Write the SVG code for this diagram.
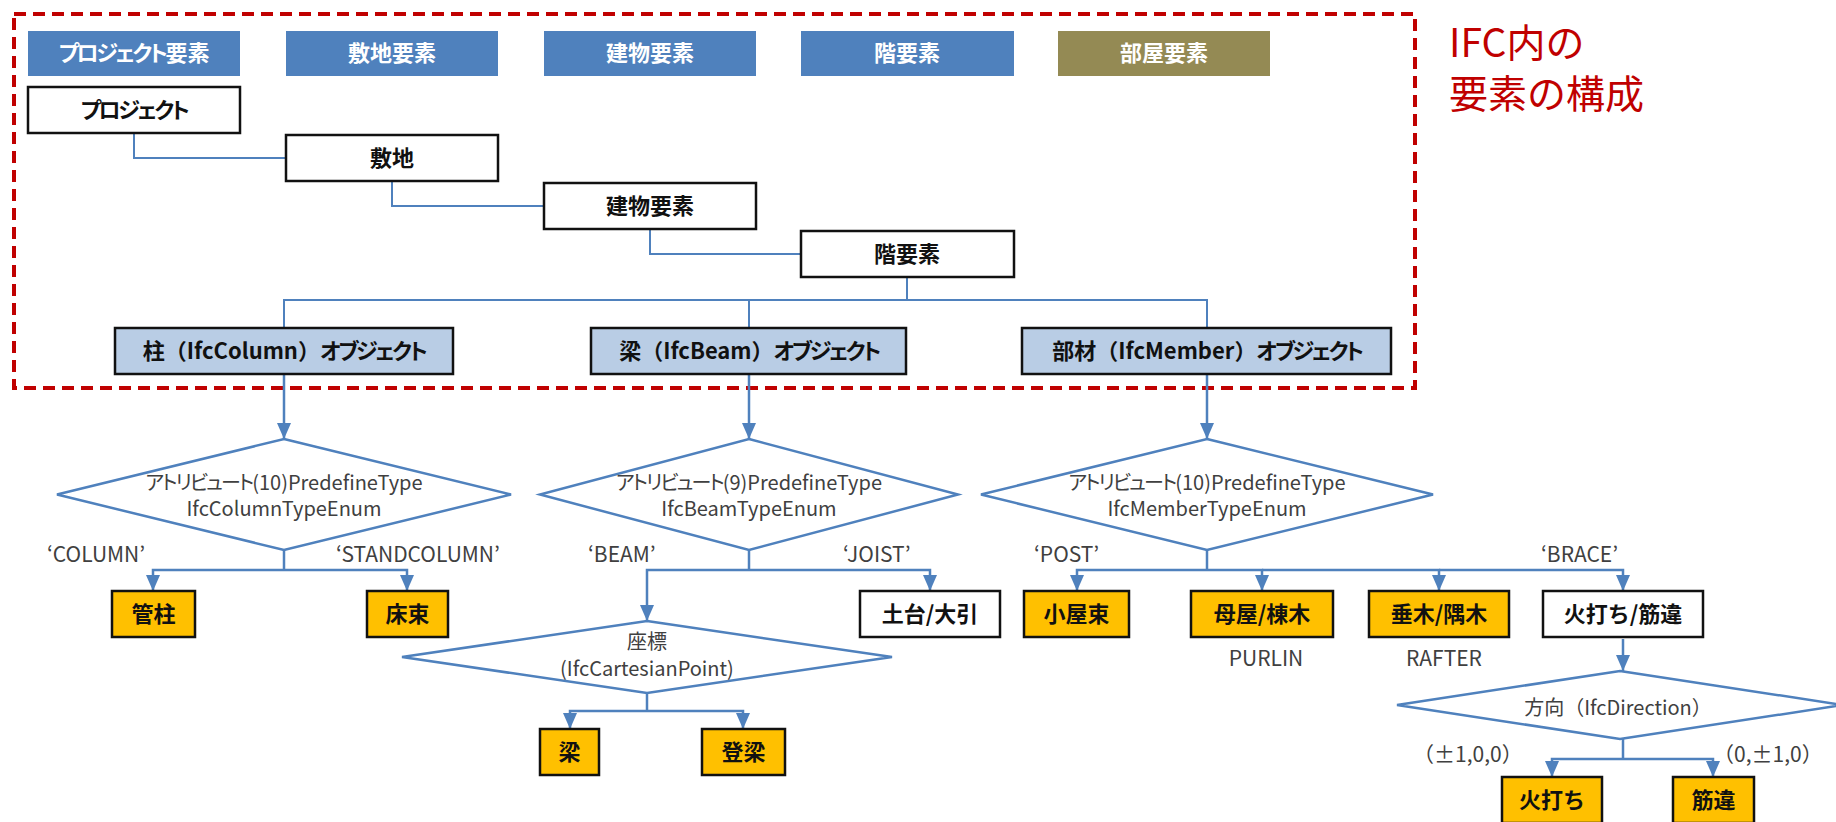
<svg xmlns="http://www.w3.org/2000/svg" width="1836" height="822" viewBox="0 0 1836 822">
<defs>
<style>
text{font-family:"Noto Sans CJK JP","Noto Sans",sans-serif;}
.kt{font-feature-settings:"palt";letter-spacing:-2.5px;}
.kd{font-feature-settings:"palt";letter-spacing:-2px;}
.hdr{fill:#4f81bd;}
.hdr2{fill:#948a54;}
.ht{fill:#ffffff;font-size:22px;font-weight:bold;text-anchor:middle;}
.wb{fill:#ffffff;stroke:#111111;stroke-width:2.5;}
.bb{fill:#b9cde5;stroke:#111111;stroke-width:2.5;}
.yb{fill:#ffc000;stroke:#111111;stroke-width:2.5;}
.bt{fill:#111111;font-size:22px;font-weight:bold;text-anchor:middle;}
.dm{fill:#ffffff;stroke:#4f81bd;stroke-width:2.5;}
.dt{fill:#404040;font-size:20px;text-anchor:middle;}
.lb{fill:#404040;font-size:21px;}
.c1{fill:none;stroke:#4f81bd;stroke-width:2;}
.c2{fill:none;stroke:#4f81bd;stroke-width:2.5;}
.ar{fill:none;stroke:#4f81bd;stroke-width:2.5;marker-end:url(#ah);}
.tt{fill:#c00000;font-size:39px;}
</style>
<marker id="ah" viewBox="0 0 16 14" refX="16" refY="7" markerWidth="16" markerHeight="14" markerUnits="userSpaceOnUse" orient="auto">
<path d="M0,0 L16,7 L0,14 z" fill="#4f81bd"/>
</marker>
</defs>

<rect x="14" y="14" width="1401" height="374" fill="none" stroke="#c00000" stroke-width="4" stroke-dasharray="12,7"/>

<g id="title">
<text class="tt" x="1449" y="57">IFC内の</text>
<text class="tt" x="1449" y="108">要素の構成</text>
</g>

<g id="headers">
<g id="h1"><rect class="hdr" x="28" y="31" width="212" height="45"/><text class="ht" x="134" y="61"><tspan class="kt">プロジェクト</tspan>要素</text></g>
<g id="h2"><rect class="hdr" x="286" y="31" width="212" height="45"/><text class="ht" x="392" y="61">敷地要素</text></g>
<g id="h3"><rect class="hdr" x="544" y="31" width="212" height="45"/><text class="ht" x="650" y="61">建物要素</text></g>
<g id="h4"><rect class="hdr" x="801" y="31" width="213" height="45"/><text class="ht" x="907" y="61">階要素</text></g>
<g id="h5"><rect class="hdr2" x="1058" y="31" width="212" height="45"/><text class="ht" x="1164" y="61">部屋要素</text></g>
</g>

<g id="connectors">
<polyline class="c1" points="134,133 134,158 286,158"/>
<polyline class="c1" points="392,181 392,206 544,206"/>
<polyline class="c1" points="650,229 650,254 801,254"/>
<polyline class="c1" points="907,277 907,300"/>
<polyline class="c1" points="284,328 284,300 1207,300 1207,328"/>
<line class="c1" x1="749" y1="300" x2="749" y2="328"/>
<line class="ar" x1="284" y1="374" x2="284" y2="439"/>
<line class="ar" x1="749" y1="374" x2="749" y2="439"/>
<line class="ar" x1="1207" y1="374" x2="1207" y2="439"/>
<line class="c2" x1="284" y1="550" x2="284" y2="570"/>
<polyline class="ar" points="284,570 153,570 153,591"/>
<polyline class="ar" points="284,570 407,570 407,591"/>
<line class="c2" x1="749" y1="550" x2="749" y2="570"/>
<polyline class="ar" points="749,570 647,570 647,621"/>
<polyline class="ar" points="749,570 930,570 930,591"/>
<line class="c2" x1="1207" y1="550" x2="1207" y2="570"/>
<polyline class="ar" points="1207,570 1077,570 1077,591"/>
<polyline class="ar" points="1207,570 1262,570 1262,591"/>
<polyline class="ar" points="1262,570 1439,570 1439,591"/>
<polyline class="ar" points="1439,570 1623,570 1623,591"/>
<line class="c2" x1="647" y1="693" x2="647" y2="711"/>
<polyline class="ar" points="647,711 570,711 570,729"/>
<polyline class="ar" points="647,711 743,711 743,729"/>
<line class="ar" x1="1623" y1="639" x2="1623" y2="671"/>
<line class="c2" x1="1623" y1="739" x2="1623" y2="759"/>
<polyline class="ar" points="1623,759 1552,759 1552,777"/>
<polyline class="ar" points="1623,759 1713,759 1713,777"/>
</g>

<g id="project"><rect class="wb" x="28" y="87" width="212" height="46"/><text class="bt" x="134" y="118"><tspan class="kt">プロジェクト</tspan></text></g>
<g id="site"><rect class="wb" x="286" y="135" width="212" height="46"/><text class="bt" x="392" y="166">敷地</text></g>
<g id="building"><rect class="wb" x="544" y="183" width="212" height="46"/><text class="bt" x="650" y="214">建物要素</text></g>
<g id="storey"><rect class="wb" x="801" y="231" width="213" height="46"/><text class="bt" x="907" y="262">階要素</text></g>

<g id="column"><rect class="bb" x="115" y="328" width="338" height="46"/><text class="bt" x="284" y="359">柱（IfcColumn）<tspan class="kt">オブジェクト</tspan></text></g>
<g id="beam"><rect class="bb" x="591" y="328" width="315" height="46"/><text class="bt" x="749" y="359">梁（IfcBeam）<tspan class="kt">オブジェクト</tspan></text></g>
<g id="member"><rect class="bb" x="1022" y="328" width="369" height="46"/><text class="bt" x="1207" y="359">部材（IfcMember）<tspan class="kt">オブジェクト</tspan></text></g>

<g id="d-column"><polygon class="dm" points="284,439 511,494.5 284,550 57,494.5"/><text class="dt" x="284" y="490"><tspan class="kd">アトリビュート</tspan>(10)PredefineType</text><text class="dt" x="284" y="516">IfcColumnTypeEnum</text></g>
<g id="d-beam"><polygon class="dm" points="749,439 958,494.5 749,550 540,494.5"/><text class="dt" x="749" y="490"><tspan class="kd">アトリビュート</tspan>(9)PredefineType</text><text class="dt" x="749" y="516">IfcBeamTypeEnum</text></g>
<g id="d-member"><polygon class="dm" points="1207,439 1433,494.5 1207,550 981,494.5"/><text class="dt" x="1207" y="490"><tspan class="kd">アトリビュート</tspan>(10)PredefineType</text><text class="dt" x="1207" y="516">IfcMemberTypeEnum</text></g>

<g id="labels">
<text class="lb" x="47" y="562">‘COLUMN’</text>
<text class="lb" x="336" y="562">‘STANDCOLUMN’</text>
<text class="lb" x="588" y="562">‘BEAM’</text>
<text class="lb" x="843" y="562">‘JOIST’</text>
<text class="lb" x="1034" y="562">‘POST’</text>
<text class="lb" x="1541" y="562">‘BRACE’</text>
<text class="lb" x="1266" y="666" text-anchor="middle">PURLIN</text>
<text class="lb" x="1444" y="666" text-anchor="middle">RAFTER</text>
<text class="lb" x="1413" y="762">（±1,0,0）</text>
<text class="lb" x="1713" y="762">（0,±1,0）</text>
</g>

<g id="kanbashira"><rect class="yb" x="112" y="591" width="83" height="46"/><text class="bt" x="153.5" y="622">管柱</text></g>
<g id="yukazuka"><rect class="yb" x="367" y="591" width="81" height="46"/><text class="bt" x="407.5" y="622">床束</text></g>
<g id="dodai"><rect class="wb" x="860" y="591" width="140" height="46"/><text class="bt" x="930" y="622">土台/大引</text></g>
<g id="koyazuka"><rect class="yb" x="1024" y="591" width="105" height="46"/><text class="bt" x="1076.5" y="622">小屋束</text></g>
<g id="moya"><rect class="yb" x="1191" y="591" width="142" height="46"/><text class="bt" x="1262" y="622">母屋/棟木</text></g>
<g id="taruki"><rect class="yb" x="1369" y="591" width="140" height="46"/><text class="bt" x="1439" y="622">垂木/隅木</text></g>
<g id="brace"><rect class="wb" x="1543" y="591" width="160" height="46"/><text class="bt" x="1623" y="622">火打ち/筋違</text></g>

<g id="d-point"><polygon class="dm" points="647,621 892,657 647,693 402,657"/><text class="dt" x="647" y="649">座標</text><text class="dt" x="647" y="676">(IfcCartesianPoint)</text></g>
<g id="hari"><rect class="yb" x="540" y="729" width="59" height="46"/><text class="bt" x="569.5" y="760">梁</text></g>
<g id="noboribari"><rect class="yb" x="702" y="729" width="83" height="46"/><text class="bt" x="743.5" y="760">登梁</text></g>

<g id="d-direction"><polygon class="dm" points="1620,671 1843,705 1620,739 1397,705"/><text class="dt" x="1618" y="715">方向（IfcDirection）</text></g>
<g id="hiuchi"><rect class="yb" x="1502" y="777" width="100" height="46"/><text class="bt" x="1552" y="808">火打ち</text></g>
<g id="sujichigai"><rect class="yb" x="1673" y="777" width="81" height="46"/><text class="bt" x="1713.5" y="808">筋違</text></g>
</svg>
